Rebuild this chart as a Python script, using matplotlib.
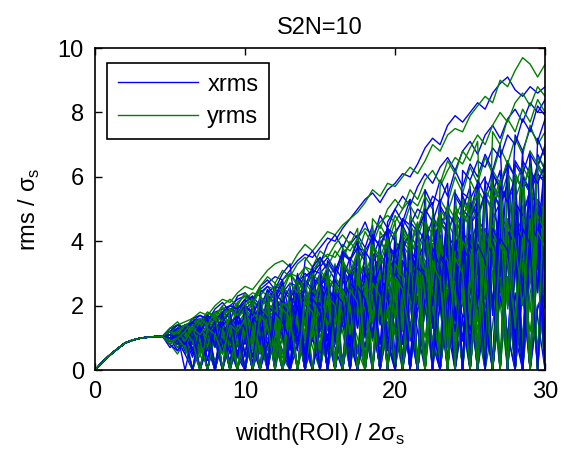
import matplotlib
matplotlib.use("Agg")
import matplotlib.pyplot as plt
import numpy as np

# shared rise of every trace, x = 0 .. 4.5 (step 0.5)
rise_x = [0.0, 0.5, 1.0, 1.5, 2.0, 2.5, 3.0, 3.5, 4.0, 4.5]
rise_y = [0.0, 0.25, 0.47, 0.66, 0.84, 0.93, 0.99, 1.02, 1.04, 1.05]

# per-trace values, x = 5 .. 30 (step 0.5)
xrms = [
    [1.1, 1.3, 1.4, 1.5, 1.6, 1.5, 1.8, 1.9, 2.0, 2.2, 2.3, 2.2, 2.5, 2.7, 2.9, 2.8, 3.1, 3.4, 3.6, 3.5,
     3.8, 4.1, 4.0, 4.4, 4.7, 5.0, 5.3, 5.5, 5.2, 5.6, 5.8, 6.1, 6.0, 6.4, 6.9, 7.2, 7.0, 7.6, 7.9, 7.7,
     8.0, 8.3, 8.1, 8.6, 8.9, 9.1, 8.7, 8.5, 8.8, 8.6, 8.8],
    [1.0, 1.2, 1.3, 1.1, 1.4, 1.6, 1.5, 1.7, 1.9, 1.8, 2.1, 2.3, 2.0, 2.4, 2.6, 2.5, 2.2, 2.7, 3.0, 2.8,
     3.2, 3.5, 3.1, 3.6, 3.9, 4.2, 3.8, 4.5, 1.5, 4.6, 5.0, 5.4, 5.1, 5.7, 6.1, 5.8, 6.3, 6.6, 6.2, 6.8,
     7.1, 6.7, 7.3, 7.6, 7.2, 7.8, 8.1, 7.7, 8.3, 8.0, 8.4],
    [0.9, 0.8, 1.0, 0.4, 1.1, 0.0, 1.2, 0.9, 0.3, 1.4, 1.6, 0.2, 1.5, 1.9, 0.6, 1.7, 2.0, 0.0, 2.2, 1.8,
     0.5, 2.4, 2.1, 0.0, 2.6, 2.9, 1.2, 2.7, 0.3, 3.1, 3.4, 0.8, 3.6, 3.2, 0.0, 3.9, 4.2, 1.5, 4.0, 0.2,
     4.5, 4.9, 0.6, 4.7, 5.2, 2.0, 5.0, 0.0, 5.5, 5.1, 0.9],
    [0.8, 1.1, 0.6, 1.2, 1.0, 0.7, 0.0, 1.3, 1.1, 0.8, 0.0, 1.4, 1.2, 0.4, 1.6, 1.3, 0.0, 1.8, 1.5, 0.9,
     2.0, 0.0, 2.3, 1.9, 0.7, 2.5, 2.2, 0.0, 2.8, 2.4, 1.1, 3.0, 0.0, 3.3, 2.9, 0.4, 3.6, 3.2, 0.0, 3.8,
     1.7, 4.1, 3.6, 0.0, 4.4, 4.0, 0.8, 4.7, 4.2, 0.0, 4.6],
    [1.2, 1.0, 1.3, 1.4, 1.2, 1.5, 1.3, 1.6, 1.4, 1.7, 1.9, 1.6, 2.0, 1.7, 2.2, 2.0, 0.6, 2.3, 2.5, 2.1,
     2.7, 2.4, 2.9, 0.0, 3.0, 3.3, 2.8, 3.5, 3.2, 3.7, 0.4, 3.9, 4.2, 3.8, 4.4, 0.0, 4.6, 4.3, 4.9, 4.5,
     5.1, 0.3, 5.4, 5.0, 5.7, 5.3, 1.0, 5.9, 5.5, 6.1, 5.8],
    [0.7, 0.9, 0.5, 0.0, 0.8, 0.6, 1.0, 0.0, 0.9, 0.4, 1.1, 0.0, 0.8, 1.2, 0.3, 1.0, 0.0, 1.3, 0.7, 0.0,
     1.5, 1.1, 0.0, 1.6, 0.9, 0.0, 1.8, 1.2, 0.2, 1.9, 0.0, 2.1, 1.4, 0.0, 2.3, 1.7, 0.0, 2.5, 0.6, 2.2,
     0.0, 2.7, 1.8, 0.0, 2.9, 0.5, 2.4, 0.0, 3.1, 1.6, 0.0],
    [1.3, 1.4, 1.2, 1.6, 1.7, 1.5, 1.9, 2.1, 1.8, 2.3, 2.4, 2.1, 2.6, 2.8, 2.5, 3.0, 3.3, 1.2, 3.4, 3.7,
     3.3, 3.9, 4.2, 3.8, 4.3, 4.1, 4.6, 4.0, 4.8, 4.4, 5.0, 4.6, 5.3, 0.0, 5.6, 5.1, 5.9, 5.4, 6.2, 5.7,
     6.4, 6.0, 6.7, 6.2, 7.0, 2.1, 7.3, 6.8, 7.5, 7.1, 7.8],
    [1.0, 0.6, 1.1, 0.9, 0.0, 1.2, 1.0, 0.5, 1.5, 1.2, 0.0, 1.7, 1.4, 0.8, 1.9, 0.0, 2.1, 1.6, 0.4, 2.3,
     2.0, 0.0, 2.5, 2.2, 1.0, 2.7, 0.0, 3.0, 2.6, 0.6, 3.2, 2.8, 0.0, 3.5, 3.1, 1.3, 3.8, 0.0, 4.1, 3.6,
     0.8, 4.3, 3.9, 0.0, 4.6, 4.2, 1.5, 4.9, 0.0, 5.2, 4.7],
    [1.1, 1.2, 0.9, 1.3, 1.1, 0.8, 1.4, 1.2, 0.0, 1.5, 1.3, 1.6, 0.7, 1.8, 1.5, 2.0, 1.2, 0.0, 2.2, 1.9,
     2.4, 0.9, 2.6, 2.3, 0.0, 2.8, 2.5, 3.0, 1.4, 3.2, 2.9, 0.0, 3.5, 3.1, 3.8, 1.9, 4.0, 3.6, 0.0, 4.3,
     3.9, 4.6, 2.2, 4.9, 4.4, 0.0, 5.2, 4.8, 5.6, 2.6, 5.4],
    [1.2, 1.1, 1.4, 1.3, 1.5, 1.4, 1.7, 1.6, 1.8, 2.0, 1.9, 2.1, 0.8, 2.2, 2.5, 2.4, 2.7, 2.6, 2.9, 3.1,
     3.0, 3.3, 0.8, 3.6, 3.4, 3.8, 3.7, 4.1, 3.9, 4.4, 4.2, 4.7, 4.5, 5.0, 4.8, 5.4, 5.2, 5.8, 0.0, 6.2,
     5.9, 6.5, 6.3, 6.9, 6.6, 7.3, 7.0, 7.8, 7.4, 8.2, 7.9],
    [0.9, 1.0, 0.7, 1.1, 0.0, 0.9, 1.2, 0.6, 1.3, 0.0, 1.4, 1.1, 0.5, 1.6, 1.3, 0.0, 1.7, 1.4, 0.9, 1.9,
     0.0, 2.1, 1.7, 0.3, 2.3, 2.0, 0.0, 2.5, 2.1, 1.1, 2.8, 0.0, 3.0, 2.6, 0.5, 3.3, 2.9, 0.0, 3.6, 3.2,
     1.2, 3.9, 3.4, 0.0, 4.2, 3.7, 0.7, 4.5, 4.0, 0.0, 4.4],
    [1.0, 1.2, 1.1, 0.8, 1.3, 1.1, 0.0, 1.4, 1.6, 1.2, 1.7, 0.4, 1.9, 1.6, 2.1, 0.0, 2.3, 2.0, 2.5, 1.3,
     2.6, 2.9, 0.0, 3.1, 2.7, 3.4, 1.8, 3.6, 0.0, 3.9, 3.5, 4.2, 2.4, 4.5, 0.0, 4.8, 4.3, 5.1, 1.6, 5.4,
     4.9, 5.8, 0.0, 6.1, 5.6, 6.5, 3.0, 6.8, 0.0, 7.2, 6.6],
    [1.0, 0.9, 1.1, 0.7, 0.0, 0.9, 1.2, 1.0, 0.0, 0.8, 1.3, 0.0, 1.1, 1.5, 0.9, 0.0, 1.6, 1.2, 0.0, 1.8,
     1.4, 0.6, 2.0, 0.0, 1.7, 2.2, 0.0, 1.9, 2.4, 0.8, 0.0, 2.6, 2.1, 0.0, 2.9, 2.3, 0.0, 3.1, 1.5, 3.4,
     0.0, 2.8, 3.6, 0.0, 3.3, 3.9, 1.1, 0.0, 4.1, 3.5, 0.0],
    [1.1, 1.0, 0.8, 1.2, 0.9, 0.0, 1.1, 0.6, 1.3, 0.0, 1.0, 1.4, 0.0, 1.2, 0.5, 1.5, 0.0, 1.7, 1.1, 0.0,
     1.9, 0.0, 1.6, 2.1, 0.0, 1.8, 0.7, 2.3, 0.0, 2.5, 1.9, 0.0, 2.7, 1.2, 0.0, 3.0, 2.4, 0.0, 3.2, 0.9,
     3.5, 0.0, 2.9, 3.7, 0.0, 4.0, 1.8, 0.0, 4.3, 3.4, 0.0],
    [0.9, 1.1, 1.0, 0.0, 1.2, 0.8, 0.0, 1.0, 1.3, 0.4, 0.0, 1.2, 0.9, 0.0, 1.4, 1.1, 0.0, 0.8, 1.6, 0.0,
     1.3, 1.8, 0.0, 1.5, 0.0, 2.0, 1.2, 0.0, 2.2, 1.7, 0.0, 2.4, 0.0, 1.9, 2.6, 0.0, 2.1, 0.0, 2.8, 2.3,
     0.0, 3.0, 1.4, 0.0, 3.2, 2.5, 0.0, 3.4, 0.0, 3.6, 2.7],
    [1.2, 0.8, 1.0, 1.1, 0.6, 1.2, 0.0, 0.9, 1.1, 0.0, 1.3, 0.7, 0.0, 1.4, 1.0, 0.0, 1.5, 0.0, 1.2, 1.7,
     0.0, 1.4, 0.0, 1.9, 1.1, 0.0, 2.1, 1.6, 0.0, 2.3, 0.0, 1.8, 2.5, 0.0, 2.0, 0.0, 2.7, 1.3, 0.0, 2.9,
     2.2, 0.0, 3.1, 0.0, 2.4, 3.3, 0.0, 2.6, 3.5, 0.0, 3.0],
    [1.0, 1.2, 0.9, 1.0, 1.3, 0.0, 1.1, 1.4, 0.7, 0.0, 1.5, 1.2, 0.0, 1.7, 1.3, 0.6, 0.0, 1.9, 1.5, 0.0,
     2.1, 1.6, 0.0, 2.3, 0.9, 0.0, 2.5, 1.9, 0.0, 2.7, 2.2, 0.0, 3.0, 0.0, 2.5, 3.2, 0.0, 3.5, 2.8, 0.0,
     3.7, 1.9, 0.0, 4.0, 3.1, 0.0, 4.3, 0.0, 3.6, 4.6, 0.0],
    [0.8, 0.6, 0.9, 1.0, 0.0, 0.7, 0.9, 0.0, 1.0, 0.6, 0.0, 1.1, 0.0, 0.8, 1.2, 0.0, 0.9, 1.3, 0.0, 1.0,
     0.0, 1.4, 0.7, 0.0, 1.5, 0.0, 1.2, 1.6, 0.0, 1.3, 1.8, 0.0, 1.4, 0.0, 1.9, 0.8, 0.0, 2.0, 0.0, 1.6,
     2.2, 0.0, 1.7, 0.0, 2.3, 1.1, 0.0, 2.5, 0.0, 1.9, 2.6],
    [1.1, 1.3, 1.2, 0.9, 1.4, 1.2, 0.0, 1.5, 1.3, 1.6, 0.0, 1.8, 1.5, 1.9, 0.0, 2.0, 1.7, 0.0, 2.2, 1.9,
     2.4, 0.0, 2.5, 2.1, 2.7, 0.0, 2.9, 2.4, 3.1, 0.0, 3.2, 2.8, 0.0, 3.4, 3.0, 3.7, 0.0, 3.9, 3.3, 0.0,
     4.1, 3.6, 4.4, 0.0, 4.6, 4.0, 0.0, 4.9, 4.3, 5.1, 0.0],
    [1.0, 0.9, 1.2, 0.5, 1.1, 0.0, 1.3, 1.0, 0.0, 1.2, 0.8, 1.5, 0.0, 1.3, 1.6, 0.0, 1.4, 0.9, 1.8, 0.0,
     1.6, 2.0, 0.0, 1.7, 2.2, 0.0, 1.9, 1.2, 2.4, 0.0, 2.1, 2.6, 0.0, 2.3, 0.0, 2.8, 2.5, 0.0, 3.0, 1.6,
     0.0, 3.2, 2.7, 0.0, 3.5, 0.0, 3.1, 3.7, 0.0, 3.3, 3.9],
    [1.2, 1.1, 0.0, 1.0, 1.3, 0.9, 0.0, 1.2, 0.0, 1.4, 1.0, 0.0, 1.5, 0.0, 1.3, 1.7, 0.0, 1.4, 0.0, 1.9,
     1.5, 0.0, 2.0, 0.0, 1.8, 2.2, 0.0, 1.9, 0.0, 2.4, 2.0, 0.0, 2.6, 0.0, 2.2, 2.8, 0.0, 2.4, 0.0, 3.0,
     2.6, 0.0, 3.3, 0.0, 2.8, 3.5, 0.0, 3.1, 0.0, 3.8, 3.3],
    [0.9, 1.0, 1.2, 1.1, 0.8, 1.3, 1.1, 0.0, 1.4, 1.2, 1.5, 0.0, 1.7, 1.4, 0.0, 1.8, 1.6, 2.0, 0.0, 2.1,
     1.8, 0.0, 2.3, 2.0, 0.0, 2.6, 2.2, 0.0, 2.8, 2.5, 0.0, 3.0, 2.7, 0.0, 3.3, 2.9, 0.0, 3.6, 3.2, 0.0,
     3.9, 3.4, 0.0, 4.2, 3.7, 0.0, 4.5, 4.0, 0.0, 4.8, 4.2],
    [1.1, 1.2, 1.4, 0.6, 1.5, 1.7, 0.0, 1.8, 1.6, 2.0, 0.4, 2.2, 1.9, 2.5, 0.0, 2.6, 2.3, 0.9, 2.9, 3.1,
     0.0, 3.2, 2.8, 3.6, 1.4, 3.8, 0.0, 3.5, 4.1, 4.3, 1.8, 4.5, 4.0, 0.0, 4.9, 5.2, 2.5, 5.0, 0.0, 5.5,
     5.3, 5.8, 1.2, 6.1, 5.7, 0.0, 6.4, 6.0, 3.3, 6.7, 6.2],
    [1.0, 1.3, 1.1, 1.5, 0.0, 1.4, 1.7, 1.2, 0.5, 1.9, 2.1, 0.0, 2.3, 2.0, 2.6, 1.1, 0.0, 2.8, 2.5, 3.0,
     3.3, 0.6, 3.1, 3.5, 0.0, 3.7, 3.4, 1.9, 4.0, 0.0, 4.3, 4.6, 0.9, 4.4, 4.9, 0.0, 5.1, 4.7, 2.8, 5.4,
     0.0, 5.6, 6.0, 1.7, 5.8, 6.3, 0.0, 6.5, 6.1, 2.4, 6.8],
    [1.2, 0.9, 1.4, 1.3, 1.6, 0.3, 1.5, 1.8, 0.0, 1.7, 2.0, 1.8, 0.0, 2.3, 2.1, 2.5, 0.7, 2.7, 0.0, 2.9,
     2.6, 3.1, 0.0, 3.3, 2.9, 3.6, 1.2, 3.8, 3.4, 0.0, 4.0, 3.7, 4.3, 0.0, 4.5, 2.0, 4.8, 4.4, 0.0, 5.0,
     4.7, 5.3, 0.5, 5.5, 5.1, 5.8, 0.0, 6.0, 5.6, 6.3, 0.0],
    [0.9, 1.1, 0.7, 1.3, 1.2, 0.0, 1.4, 1.0, 1.6, 0.0, 1.8, 1.5, 2.0, 0.3, 2.2, 1.9, 0.0, 2.4, 2.1, 1.2,
     2.6, 0.0, 2.8, 2.4, 3.0, 0.0, 3.2, 2.7, 0.8, 3.5, 3.1, 0.0, 3.7, 3.4, 4.0, 1.5, 0.0, 4.2, 3.8, 4.5,
     0.0, 4.7, 4.3, 2.1, 5.0, 0.0, 5.2, 4.8, 5.5, 0.0, 5.7],
    [1.1, 1.3, 1.2, 1.6, 1.4, 1.7, 1.5, 0.0, 1.9, 1.7, 2.1, 2.3, 0.8, 2.5, 2.2, 2.7, 0.0, 2.9, 2.6, 3.2,
     1.5, 3.4, 3.0, 3.7, 0.0, 3.9, 3.5, 4.2, 2.2, 4.4, 4.0, 0.0, 4.6, 4.3, 4.9, 3.1, 5.2, 0.0, 5.4, 5.0,
     5.7, 1.9, 5.9, 5.5, 6.2, 0.0, 6.5, 6.1, 6.8, 4.0, 6.6],
    [1.0, 0.8, 1.2, 1.0, 1.4, 0.0, 1.3, 1.5, 0.9, 1.6, 0.0, 1.8, 1.5, 2.0, 0.0, 2.1, 1.7, 2.3, 0.5, 2.4,
     2.0, 2.6, 0.0, 2.8, 2.3, 0.0, 3.0, 2.5, 3.2, 1.0, 0.0, 3.4, 2.9, 3.6, 0.0, 3.8, 3.2, 1.4, 4.0, 0.0,
     4.2, 3.6, 0.0, 4.4, 3.9, 0.8, 4.6, 0.0, 4.8, 4.2, 0.0],
    [1.2, 1.4, 1.3, 1.5, 1.7, 1.6, 0.7, 1.8, 2.0, 1.9, 2.2, 0.0, 2.4, 2.6, 2.3, 2.8, 1.6, 3.0, 0.0, 3.2,
     3.5, 3.1, 0.9, 3.7, 3.4, 4.0, 0.0, 4.2, 3.8, 4.4, 2.7, 4.7, 4.3, 0.0, 5.0, 4.6, 5.3, 1.1, 5.5, 5.1,
     0.0, 5.9, 5.4, 6.2, 2.9, 6.4, 6.0, 0.0, 6.7, 6.3, 7.0],
    [0.9, 1.2, 1.0, 0.0, 1.3, 1.1, 1.5, 0.0, 1.4, 1.7, 1.3, 0.0, 1.9, 1.6, 0.0, 2.1, 1.8, 0.0, 2.3, 2.0,
     0.0, 2.5, 2.2, 0.0, 2.7, 2.4, 0.0, 2.9, 2.6, 0.0, 3.1, 2.8, 0.0, 3.3, 3.0, 0.0, 3.6, 3.2, 0.0, 3.8,
     3.4, 0.0, 4.0, 3.6, 0.0, 4.3, 3.9, 0.0, 4.5, 4.1, 0.0],
    [1.1, 1.0, 1.3, 1.5, 1.2, 1.6, 0.0, 1.5, 1.8, 0.4, 2.0, 1.7, 2.2, 0.0, 2.4, 2.1, 2.6, 0.6, 2.8, 2.5,
     3.0, 0.0, 3.2, 2.8, 3.5, 1.3, 3.7, 3.3, 0.0, 3.9, 3.6, 4.2, 0.0, 4.4, 4.0, 4.7, 1.9, 4.9, 4.5, 0.0,
     5.2, 4.8, 5.5, 0.0, 5.7, 5.2, 6.0, 2.3, 6.2, 5.8, 6.4],
    [1.0, 1.1, 0.8, 1.2, 0.0, 1.1, 1.3, 0.6, 1.5, 1.2, 0.0, 1.6, 1.4, 0.0, 1.8, 1.5, 0.9, 2.0, 0.0, 2.2,
     1.9, 0.0, 2.4, 2.1, 0.0, 2.6, 2.2, 1.0, 2.8, 0.0, 3.0, 2.6, 0.0, 3.2, 2.9, 0.0, 3.5, 3.1, 1.2, 3.7,
     0.0, 3.9, 3.4, 0.0, 4.1, 3.7, 0.0, 4.4, 3.9, 0.0, 4.6],
]

yrms = [
    [1.2, 1.4, 1.5, 1.6, 1.8, 1.7, 2.0, 2.2, 2.1, 2.4, 2.6, 2.5, 2.8, 3.1, 3.3, 3.4, 3.2, 3.6, 3.9, 3.7,
     4.0, 4.3, 4.2, 4.5, 4.7, 4.9, 5.2, 5.6, 5.4, 5.8, 5.7, 6.0, 6.3, 6.1, 6.5, 7.0, 6.8, 7.3, 7.5, 7.4,
     7.9, 8.2, 8.5, 8.3, 9.0, 8.8, 9.3, 9.7, 9.5, 9.1, 9.5],
    [1.1, 1.3, 1.2, 1.5, 1.4, 1.6, 1.8, 1.7, 2.0, 1.9, 2.2, 2.4, 2.3, 2.6, 2.5, 2.8, 3.0, 2.9, 3.2, 3.1,
     3.4, 3.6, 3.5, 3.9, 3.7, 4.1, 4.4, 4.2, 4.6, 4.8, 4.6, 5.0, 5.3, 5.1, 5.6, 0.0, 5.7, 6.2, 6.6, 6.4,
     6.9, 7.3, 7.0, 7.6, 8.0, 7.7, 8.3, 8.6, 8.2, 8.8, 8.5],
    [0.9, 1.0, 0.5, 1.2, 0.0, 1.1, 1.3, 0.7, 1.5, 1.2, 0.0, 1.6, 1.4, 0.6, 1.8, 1.5, 0.0, 2.0, 1.7, 1.0,
     2.2, 0.0, 2.4, 2.1, 0.5, 2.6, 2.3, 0.0, 2.9, 2.5, 1.3, 3.1, 0.0, 3.4, 3.0, 0.7, 3.7, 3.3, 0.0, 4.0,
     3.5, 1.5, 4.3, 3.8, 0.0, 4.6, 4.1, 0.9, 4.9, 0.0, 5.1],
    [1.0, 0.7, 1.2, 1.0, 0.4, 1.3, 0.0, 1.1, 1.4, 0.8, 1.6, 1.3, 0.0, 1.8, 1.5, 0.9, 2.0, 0.0, 1.8, 2.2,
     0.7, 2.4, 2.0, 0.0, 2.6, 2.2, 1.2, 2.8, 0.0, 3.0, 2.6, 0.4, 3.3, 2.9, 0.0, 3.6, 3.1, 1.6, 3.9, 0.0,
     4.2, 3.7, 0.6, 4.5, 4.0, 0.0, 4.8, 4.3, 1.8, 5.1, 0.0],
    [1.3, 1.2, 1.4, 1.5, 1.3, 1.6, 1.4, 1.7, 1.9, 1.6, 2.0, 1.8, 2.2, 2.0, 2.4, 0.9, 2.5, 2.3, 2.7, 2.4,
     2.9, 2.6, 0.0, 3.1, 2.8, 3.3, 3.0, 3.6, 1.7, 3.8, 3.5, 4.0, 3.7, 0.0, 4.3, 4.0, 4.6, 4.2, 4.9, 2.3,
     5.1, 4.7, 5.4, 5.0, 0.0, 5.7, 5.3, 6.0, 5.6, 6.3, 5.9],
    [0.8, 0.5, 0.9, 0.0, 0.7, 1.0, 0.3, 0.9, 0.0, 1.1, 0.6, 1.2, 0.0, 1.0, 1.3, 0.4, 0.0, 1.4, 0.9, 0.0,
     1.6, 0.5, 1.3, 0.0, 1.7, 1.0, 0.0, 1.9, 0.6, 1.5, 0.0, 2.1, 1.2, 0.0, 2.3, 0.8, 1.9, 0.0, 2.5, 1.4,
     0.0, 2.7, 0.9, 2.2, 0.0, 2.9, 1.6, 0.0, 3.1, 0.7, 2.6],
    [1.2, 1.3, 1.1, 1.5, 1.4, 1.7, 1.5, 1.9, 1.8, 2.1, 2.3, 2.0, 2.5, 2.3, 0.5, 2.6, 3.0, 2.7, 3.2, 2.9,
     3.5, 3.2, 3.7, 3.4, 4.0, 3.6, 4.3, 3.9, 4.5, 4.1, 4.8, 4.4, 5.1, 4.7, 5.4, 5.0, 0.0, 5.2, 6.0, 5.5,
     6.3, 5.8, 6.6, 6.1, 6.9, 6.4, 7.2, 6.7, 7.6, 7.0, 7.4],
    [1.1, 0.9, 1.2, 0.6, 1.0, 1.3, 0.0, 1.2, 1.5, 1.1, 0.5, 1.7, 1.4, 0.0, 1.9, 1.6, 1.0, 2.1, 0.0, 1.8,
     2.3, 1.4, 0.0, 2.5, 2.2, 0.6, 2.7, 2.4, 0.0, 2.9, 2.6, 1.5, 3.2, 0.0, 3.4, 3.0, 0.9, 3.7, 3.3, 0.0,
     4.0, 3.6, 1.9, 4.3, 0.0, 4.6, 4.2, 0.4, 4.9, 4.5, 0.0],
    [1.0, 1.1, 1.3, 1.2, 1.4, 1.2, 1.5, 0.8, 1.6, 1.4, 1.8, 1.5, 2.0, 1.7, 0.3, 2.1, 1.9, 2.4, 2.1, 2.6,
     1.2, 2.8, 2.5, 3.0, 2.7, 0.0, 3.2, 2.9, 3.5, 3.1, 3.8, 1.8, 4.0, 3.6, 4.3, 3.9, 0.0, 4.6, 4.1, 4.9,
     4.4, 5.2, 2.6, 5.5, 5.0, 5.8, 0.0, 6.1, 5.5, 6.4, 6.0],
    [1.2, 1.4, 1.3, 1.6, 1.5, 1.8, 1.7, 2.0, 2.2, 2.0, 2.4, 2.2, 2.6, 2.9, 2.7, 3.1, 2.9, 3.3, 3.5, 3.2,
     3.7, 3.5, 3.9, 4.2, 3.9, 4.4, 1.0, 4.7, 4.4, 5.0, 5.3, 5.0, 5.6, 5.3, 5.9, 6.2, 5.8, 6.5, 6.1, 6.8,
     6.5, 7.1, 0.0, 7.4, 7.0, 7.8, 7.4, 8.1, 7.7, 8.4, 8.0],
    [0.9, 1.1, 0.8, 1.2, 1.0, 0.0, 1.3, 1.1, 0.7, 1.4, 1.2, 0.0, 1.5, 1.3, 0.8, 1.7, 1.4, 0.0, 1.9, 1.6,
     1.0, 2.1, 0.0, 2.3, 1.9, 0.5, 2.5, 2.1, 0.0, 2.7, 2.3, 1.2, 2.9, 0.0, 3.2, 2.8, 0.6, 3.5, 3.0, 0.0,
     3.7, 3.3, 1.4, 4.0, 0.0, 4.3, 3.8, 0.8, 4.6, 4.1, 1.9],
    [1.1, 1.0, 1.3, 0.9, 1.4, 1.2, 1.6, 0.0, 1.5, 1.7, 1.4, 1.9, 0.6, 2.1, 1.8, 2.3, 0.0, 2.4, 2.1, 2.7,
     1.5, 2.9, 2.6, 0.0, 3.1, 2.8, 3.4, 1.1, 3.6, 3.2, 0.0, 3.9, 3.5, 4.2, 2.0, 4.5, 4.0, 0.0, 4.8, 4.4,
     5.1, 0.7, 5.4, 4.9, 5.8, 0.0, 6.1, 5.6, 6.4, 3.1, 6.7],
    [1.1, 0.9, 1.0, 1.2, 0.0, 1.1, 0.8, 1.3, 0.0, 1.0, 1.4, 0.0, 1.2, 0.7, 1.5, 0.0, 1.3, 1.7, 0.0, 1.4,
     0.8, 1.9, 0.0, 1.6, 2.1, 0.0, 1.8, 0.9, 2.3, 0.0, 2.0, 2.5, 0.0, 2.2, 1.0, 2.7, 0.0, 2.4, 2.9, 0.0,
     2.6, 3.1, 0.0, 1.4, 3.3, 0.0, 3.0, 3.6, 0.0, 3.2, 3.8],
    [0.8, 1.0, 0.7, 0.0, 0.9, 1.1, 0.0, 1.2, 0.6, 0.0, 1.3, 1.0, 0.0, 1.4, 0.0, 1.1, 1.5, 0.0, 1.6, 0.7,
     0.0, 1.7, 1.3, 0.0, 1.9, 0.0, 1.5, 2.0, 0.0, 2.2, 1.1, 0.0, 2.3, 1.7, 0.0, 2.5, 0.0, 1.9, 2.7, 0.0,
     2.9, 1.3, 0.0, 3.0, 2.1, 0.0, 3.2, 0.0, 2.4, 3.4, 0.0],
    [1.2, 1.1, 1.3, 1.0, 1.4, 0.0, 1.2, 1.5, 1.0, 0.0, 1.6, 1.3, 1.8, 0.0, 1.5, 1.9, 0.0, 2.1, 1.7, 0.0,
     2.2, 1.9, 0.0, 2.4, 2.0, 2.6, 0.0, 2.3, 2.8, 0.0, 2.5, 3.0, 0.0, 2.8, 3.2, 0.0, 3.4, 3.0, 0.0, 3.6,
     3.2, 0.0, 3.9, 3.4, 0.0, 4.1, 3.7, 0.0, 4.4, 3.9, 0.0],
    [1.0, 0.7, 0.9, 0.0, 1.0, 0.8, 0.0, 1.1, 0.0, 0.9, 1.2, 0.0, 1.0, 0.0, 1.3, 0.9, 0.0, 1.4, 0.0, 1.1,
     1.5, 0.0, 1.2, 0.0, 1.6, 0.6, 0.0, 1.7, 0.0, 1.4, 1.8, 0.0, 1.5, 0.0, 1.9, 1.0, 0.0, 2.0, 0.0, 1.7,
     2.2, 0.0, 1.8, 0.0, 2.3, 1.2, 0.0, 2.4, 0.0, 2.0, 2.5],
    [0.9, 1.2, 1.0, 1.3, 0.6, 1.2, 0.0, 1.4, 1.1, 0.0, 1.5, 1.2, 0.0, 1.7, 0.9, 0.0, 1.8, 1.4, 0.0, 2.0,
     1.6, 0.0, 2.2, 1.2, 0.0, 2.4, 1.8, 0.0, 2.6, 2.0, 0.0, 2.8, 1.5, 0.0, 3.0, 2.4, 0.0, 3.3, 2.6, 0.0,
     3.5, 1.8, 0.0, 3.8, 3.0, 0.0, 4.0, 3.2, 0.0, 4.3, 3.5],
    [1.1, 1.0, 1.2, 0.9, 0.0, 1.3, 1.0, 0.0, 1.4, 1.2, 0.0, 1.5, 1.3, 0.0, 1.7, 1.4, 0.0, 1.8, 0.0, 1.6,
     2.0, 0.0, 1.8, 2.2, 0.0, 1.9, 2.4, 0.0, 2.1, 0.0, 2.6, 2.3, 0.0, 2.8, 2.4, 0.0, 3.0, 0.0, 2.7, 3.3,
     0.0, 2.9, 3.5, 0.0, 3.2, 3.7, 0.0, 3.4, 0.0, 4.0, 3.6],
    [1.2, 1.4, 1.1, 1.5, 1.3, 1.6, 0.0, 1.7, 1.5, 0.0, 1.9, 1.6, 2.0, 0.0, 2.1, 1.8, 0.0, 2.3, 2.0, 2.5,
     0.0, 2.6, 2.2, 0.0, 2.8, 2.4, 3.0, 0.0, 3.1, 2.7, 0.0, 3.3, 2.9, 3.5, 0.0, 3.7, 3.2, 0.0, 4.0, 3.5,
     4.2, 0.0, 4.4, 3.8, 0.0, 4.7, 4.1, 0.0, 5.0, 4.5, 5.3],
    [0.9, 0.8, 1.0, 0.0, 1.1, 0.9, 1.2, 0.0, 1.0, 1.3, 0.0, 1.1, 1.4, 0.0, 1.2, 0.5, 1.5, 0.0, 1.3, 1.6,
     0.0, 1.4, 1.8, 0.0, 1.5, 1.9, 0.0, 1.7, 0.8, 2.0, 0.0, 1.8, 2.2, 0.0, 2.0, 2.4, 0.0, 2.1, 1.0, 2.5,
     0.0, 2.3, 2.7, 0.0, 2.5, 2.9, 0.0, 2.6, 1.2, 3.1, 0.0],
    [1.0, 1.1, 0.9, 1.2, 1.0, 0.0, 1.3, 1.1, 1.4, 0.0, 1.2, 1.5, 0.0, 1.6, 1.3, 0.0, 1.8, 1.5, 0.0, 1.9,
     1.6, 0.0, 2.1, 1.8, 0.0, 2.3, 1.9, 0.0, 2.5, 2.1, 0.0, 2.7, 2.3, 0.0, 2.9, 2.5, 0.0, 3.1, 2.7, 0.0,
     3.4, 2.9, 0.0, 3.6, 3.1, 0.0, 3.9, 3.3, 0.0, 4.1, 3.6],
    [1.1, 0.8, 1.2, 1.1, 0.0, 1.0, 1.3, 0.0, 1.2, 0.9, 0.0, 1.4, 1.1, 0.0, 1.5, 0.0, 1.3, 1.7, 0.0, 1.5,
     1.8, 0.0, 1.6, 0.0, 2.0, 1.7, 0.0, 2.1, 0.0, 1.9, 2.3, 0.0, 2.0, 2.5, 0.0, 2.2, 0.0, 2.7, 2.4, 0.0,
     2.9, 0.0, 2.6, 3.1, 0.0, 2.8, 0.0, 3.3, 3.0, 0.0, 3.5],
    [1.2, 1.0, 1.3, 1.5, 0.5, 1.6, 1.4, 1.8, 0.0, 1.9, 1.7, 2.1, 0.0, 2.3, 2.0, 2.6, 0.8, 2.8, 2.4, 0.0,
     3.0, 2.7, 3.3, 0.0, 3.5, 3.1, 3.8, 1.6, 4.0, 3.6, 0.0, 4.3, 3.9, 4.6, 2.2, 4.8, 0.0, 5.1, 4.7, 5.3,
     1.4, 5.6, 5.2, 5.9, 0.0, 6.1, 5.7, 6.4, 2.7, 6.6, 6.3],
    [0.9, 1.1, 1.2, 0.0, 1.3, 1.0, 1.5, 1.2, 0.0, 1.6, 1.9, 0.6, 2.0, 1.7, 0.0, 2.2, 1.9, 2.5, 0.0, 2.6,
     2.3, 0.0, 2.9, 2.5, 1.1, 3.1, 0.0, 3.3, 2.9, 0.0, 3.6, 3.2, 0.0, 3.8, 3.4, 1.7, 4.1, 0.0, 4.3, 3.9,
     0.0, 4.6, 4.1, 0.0, 4.8, 4.4, 1.3, 5.1, 0.0, 5.3, 4.9],
    [1.1, 1.3, 1.0, 1.4, 1.6, 1.3, 1.7, 0.0, 1.6, 1.9, 2.2, 1.9, 0.5, 2.4, 2.2, 2.7, 0.0, 2.9, 2.5, 3.1,
     0.0, 3.3, 3.0, 3.6, 1.8, 3.8, 3.4, 0.0, 4.0, 3.7, 4.3, 0.0, 4.5, 4.1, 4.8, 2.6, 5.0, 4.6, 0.0, 5.3,
     4.9, 5.6, 0.0, 5.8, 5.3, 6.1, 3.4, 6.3, 5.9, 0.0, 6.6],
    [1.0, 0.8, 1.1, 1.3, 0.0, 1.2, 1.4, 1.0, 1.5, 0.0, 1.7, 1.4, 0.0, 1.9, 1.6, 0.0, 2.1, 1.8, 0.7, 2.3,
     0.0, 2.5, 2.1, 0.0, 2.7, 2.3, 0.0, 2.9, 2.5, 1.2, 3.2, 0.0, 3.4, 3.0, 0.0, 3.6, 3.2, 0.0, 3.9, 3.4,
     1.8, 4.1, 0.0, 4.3, 3.8, 0.0, 4.6, 4.1, 0.0, 4.8, 4.3],
    [1.3, 1.5, 1.2, 1.6, 1.4, 1.8, 1.6, 2.0, 1.1, 2.1, 2.3, 2.0, 2.6, 0.0, 2.7, 2.4, 3.0, 2.6, 0.9, 3.2,
     3.5, 3.1, 0.0, 3.8, 3.4, 4.1, 3.6, 0.0, 4.3, 3.9, 4.6, 1.3, 4.8, 4.4, 5.1, 0.0, 5.3, 4.9, 5.6, 2.0,
     5.9, 5.4, 0.0, 6.2, 5.8, 6.5, 6.0, 0.0, 6.8, 6.4, 6.9],
    [0.8, 1.0, 0.7, 1.2, 0.9, 0.0, 1.1, 1.3, 0.0, 1.4, 1.2, 0.0, 1.6, 1.3, 1.8, 0.0, 1.9, 1.5, 0.0, 2.1,
     1.7, 2.3, 0.0, 2.5, 2.0, 0.0, 2.7, 2.2, 0.0, 3.0, 2.5, 0.0, 3.2, 2.7, 0.0, 3.4, 2.9, 0.0, 3.7, 3.1,
     0.0, 3.9, 3.3, 0.0, 4.1, 3.5, 0.0, 4.4, 3.8, 0.0, 4.6],
    [1.1, 1.2, 1.4, 1.1, 1.5, 0.7, 1.7, 1.5, 1.9, 0.0, 2.0, 2.2, 1.8, 2.4, 0.0, 2.6, 2.3, 2.8, 1.4, 3.0,
     2.7, 3.2, 0.0, 3.4, 3.0, 3.7, 0.0, 3.9, 3.5, 4.1, 2.1, 4.4, 4.0, 0.0, 4.6, 4.2, 4.9, 0.7, 5.1, 4.7,
     5.4, 0.0, 5.6, 5.2, 5.9, 1.9, 6.1, 5.6, 0.0, 6.4, 6.0],
    [1.0, 1.2, 0.9, 1.3, 1.1, 1.4, 0.0, 1.3, 1.6, 1.2, 0.0, 1.8, 1.5, 2.0, 0.4, 2.1, 1.8, 0.0, 2.3, 2.0,
     2.6, 0.0, 2.7, 2.3, 0.0, 2.9, 2.5, 1.5, 3.1, 0.0, 3.3, 2.9, 0.0, 3.6, 3.1, 0.0, 3.8, 3.4, 0.9, 4.0,
     3.6, 0.0, 4.3, 3.8, 0.0, 4.5, 4.0, 2.0, 4.7, 0.0, 5.0],
    [1.2, 1.1, 1.4, 1.3, 1.6, 1.4, 1.8, 0.0, 1.9, 1.7, 2.1, 0.8, 2.3, 2.0, 2.5, 0.0, 2.7, 2.4, 2.9, 1.1,
     3.1, 2.8, 0.0, 3.3, 3.0, 3.6, 0.0, 3.8, 3.3, 4.0, 1.6, 4.2, 3.8, 4.5, 0.0, 4.7, 4.3, 5.0, 0.0, 5.2,
     4.8, 5.5, 2.4, 5.7, 5.3, 0.0, 6.0, 5.6, 6.3, 0.0, 6.5],
    [0.9, 1.0, 1.2, 0.9, 0.0, 1.3, 1.1, 0.5, 1.4, 1.2, 1.6, 0.0, 1.7, 1.4, 0.0, 1.9, 1.6, 0.0, 2.1, 1.8,
     0.6, 2.3, 2.0, 0.0, 2.5, 2.1, 0.0, 2.7, 2.3, 0.0, 2.9, 2.5, 1.0, 3.1, 0.0, 3.3, 2.8, 0.0, 3.5, 3.0,
     0.0, 3.7, 3.2, 0.0, 3.9, 3.4, 1.4, 4.1, 0.0, 4.3, 3.8],
]

trace_x = np.arange(5.0, 30.01, 0.5)
x = np.concatenate([rise_x, trace_x])

plt.rcParams['font.family'] = ['Liberation Sans', 'DejaVu Sans']
plt.rcParams['mathtext.fontset'] = 'custom'
plt.rcParams['mathtext.rm'] = 'Liberation Sans'

fig = plt.figure(figsize=(5.62, 4.53), dpi=100)
ax = fig.add_axes([0.169, 0.183, 0.801, 0.711])

blue = '#0000ff'
green = '#007f00'
for i in range(len(xrms)):
    lb, = ax.plot(x, np.concatenate([rise_y, xrms[i]]), color=blue, lw=1.0)
    lg, = ax.plot(x, np.concatenate([rise_y, yrms[i]]), color=green, lw=1.0)
    if i == 0:
        lb.set_label('xrms')
        lg.set_label('yrms')

ax.set_xlim(0, 30)
ax.set_ylim(0, 10)
ax.set_xticks([0, 10, 20, 30])
ax.set_yticks([0, 2, 4, 6, 8, 10])
ax.tick_params(direction='in', length=5, width=1, labelsize=17, pad=8,
               top=True, right=True)
for s in ax.spines.values():
    s.set_linewidth(1.2)

ax.set_title('S2N=10', fontsize=17, pad=10)
ax.set_xlabel('width(ROI) / 2σ$_\\mathrm{s}$', fontsize=17, labelpad=13)
ax.set_ylabel('rms / σ$_\\mathrm{s}$', fontsize=17, labelpad=11)

leg = ax.legend(loc='upper left', bbox_to_anchor=(12 / 450, 1 - 15 / 322),
                borderaxespad=0, fontsize=17, handlelength=3.4, handletextpad=0.4,
                fancybox=False, framealpha=1, edgecolor='black',
                borderpad=0.45, labelspacing=0.45)
leg.get_frame().set_linewidth(1.2)

fig.savefig('out.png', dpi=100)
